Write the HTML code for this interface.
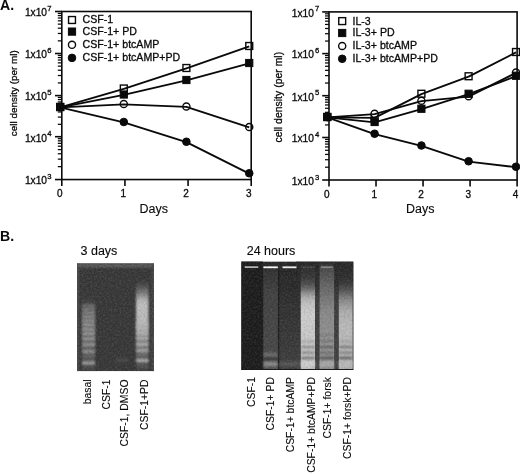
<!DOCTYPE html>
<html><head><meta charset="utf-8"><title>Figure</title>
<style>
html,body{margin:0;padding:0;background:#fff;}
body{width:520px;height:474px;overflow:hidden;}
svg{display:block;font-family:"Liberation Sans", Arial, Helvetica, sans-serif;fill:#0a0a0a;filter:grayscale(1);}
text{stroke:#0a0a0a;stroke-width:0.3px;}
.big,.rl{stroke-width:0.12px;}
.hd{stroke-width:0px;}
.ax{stroke:#0a0a0a;stroke-width:1.6;fill:none;}
.tk{stroke:#0a0a0a;stroke-width:1.25;fill:none;}
.ln{stroke:#0a0a0a;stroke-width:1.9;fill:none;stroke-linejoin:round;}
.om{stroke:#0a0a0a;stroke-width:1.4;fill:#fff;}
.fm{stroke:#0a0a0a;stroke-width:1;fill:#0a0a0a;}
.t{font-size:10.4px;}
.sup{font-size:7.7px;}
.big{font-size:12.5px;}
.hd{font-size:14.1px;font-weight:bold;}
</style></head><body>
<svg width="520" height="474" viewBox="0 0 520 474">
<defs>
<filter id="b1" x="-20%" y="-20%" width="140%" height="140%"><feGaussianBlur stdDeviation="0.9"/></filter>
<filter id="b2" x="-20%" y="-20%" width="140%" height="140%"><feGaussianBlur stdDeviation="1.6 2.2"/></filter>
<filter id="b3" x="-20%" y="-20%" width="140%" height="140%"><feGaussianBlur stdDeviation="0.6"/></filter>
</defs>
<rect width="520" height="474" fill="#fff"/>

<line class="ax" x1="55.00000000000001" y1="179.55" x2="61.800000000000004" y2="179.55"/>
<text class="t" style="font-size:10.2px" x="51.5" y="184.35" text-anchor="end">1x10<tspan class="sup" dx="0.2" dy="-5.3">3</tspan></text>
<line class="tk" x1="57.800000000000004" y1="166.65" x2="61.800000000000004" y2="166.65"/>
<line class="tk" x1="57.800000000000004" y1="159.11" x2="61.800000000000004" y2="159.11"/>
<line class="tk" x1="57.800000000000004" y1="153.75" x2="61.800000000000004" y2="153.75"/>
<line class="tk" x1="57.800000000000004" y1="149.60" x2="61.800000000000004" y2="149.60"/>
<line class="tk" x1="57.800000000000004" y1="146.21" x2="61.800000000000004" y2="146.21"/>
<line class="tk" x1="57.800000000000004" y1="143.34" x2="61.800000000000004" y2="143.34"/>
<line class="tk" x1="57.800000000000004" y1="140.85" x2="61.800000000000004" y2="140.85"/>
<line class="tk" x1="57.800000000000004" y1="138.66" x2="61.800000000000004" y2="138.66"/>
<line class="ax" x1="55.00000000000001" y1="136.70" x2="61.800000000000004" y2="136.70"/>
<text class="t" style="font-size:10.2px" x="51.5" y="141.50" text-anchor="end">1x10<tspan class="sup" dx="0.2" dy="-5.3">4</tspan></text>
<line class="tk" x1="57.800000000000004" y1="124.33" x2="61.800000000000004" y2="124.33"/>
<line class="tk" x1="57.800000000000004" y1="117.09" x2="61.800000000000004" y2="117.09"/>
<line class="tk" x1="57.800000000000004" y1="111.96" x2="61.800000000000004" y2="111.96"/>
<line class="tk" x1="57.800000000000004" y1="107.97" x2="61.800000000000004" y2="107.97"/>
<line class="tk" x1="57.800000000000004" y1="104.72" x2="61.800000000000004" y2="104.72"/>
<line class="tk" x1="57.800000000000004" y1="101.97" x2="61.800000000000004" y2="101.97"/>
<line class="tk" x1="57.800000000000004" y1="99.58" x2="61.800000000000004" y2="99.58"/>
<line class="tk" x1="57.800000000000004" y1="97.48" x2="61.800000000000004" y2="97.48"/>
<line class="ax" x1="55.00000000000001" y1="95.60" x2="61.800000000000004" y2="95.60"/>
<text class="t" style="font-size:10.2px" x="51.5" y="100.40" text-anchor="end">1x10<tspan class="sup" dx="0.2" dy="-5.3">5</tspan></text>
<line class="tk" x1="57.800000000000004" y1="82.93" x2="61.800000000000004" y2="82.93"/>
<line class="tk" x1="57.800000000000004" y1="75.51" x2="61.800000000000004" y2="75.51"/>
<line class="tk" x1="57.800000000000004" y1="70.25" x2="61.800000000000004" y2="70.25"/>
<line class="tk" x1="57.800000000000004" y1="66.17" x2="61.800000000000004" y2="66.17"/>
<line class="tk" x1="57.800000000000004" y1="62.84" x2="61.800000000000004" y2="62.84"/>
<line class="tk" x1="57.800000000000004" y1="60.02" x2="61.800000000000004" y2="60.02"/>
<line class="tk" x1="57.800000000000004" y1="57.58" x2="61.800000000000004" y2="57.58"/>
<line class="tk" x1="57.800000000000004" y1="55.43" x2="61.800000000000004" y2="55.43"/>
<line class="ax" x1="55.00000000000001" y1="53.50" x2="61.800000000000004" y2="53.50"/>
<text class="t" style="font-size:10.2px" x="51.5" y="58.30" text-anchor="end">1x10<tspan class="sup" dx="0.2" dy="-5.3">6</tspan></text>
<line class="tk" x1="57.800000000000004" y1="40.86" x2="61.800000000000004" y2="40.86"/>
<line class="tk" x1="57.800000000000004" y1="33.46" x2="61.800000000000004" y2="33.46"/>
<line class="tk" x1="57.800000000000004" y1="28.21" x2="61.800000000000004" y2="28.21"/>
<line class="tk" x1="57.800000000000004" y1="24.14" x2="61.800000000000004" y2="24.14"/>
<line class="tk" x1="57.800000000000004" y1="20.82" x2="61.800000000000004" y2="20.82"/>
<line class="tk" x1="57.800000000000004" y1="18.01" x2="61.800000000000004" y2="18.01"/>
<line class="tk" x1="57.800000000000004" y1="15.57" x2="61.800000000000004" y2="15.57"/>
<line class="tk" x1="57.800000000000004" y1="13.42" x2="61.800000000000004" y2="13.42"/>
<line class="ax" x1="55.00000000000001" y1="11.50" x2="61.800000000000004" y2="11.50"/>
<text class="t" style="font-size:10.2px" x="51.5" y="16.30" text-anchor="end">1x10<tspan class="sup" dx="0.2" dy="-5.3">7</tspan></text>
<line class="ax" x1="61.80" y1="179.55" x2="61.80" y2="186.05"/>
<text class="t" style="font-size:10px" x="59.80" y="197.45" text-anchor="middle">0</text>
<line class="ax" x1="124.93" y1="179.55" x2="124.93" y2="186.05"/>
<text class="t" style="font-size:10px" x="123.40" y="197.45" text-anchor="middle">1</text>
<line class="ax" x1="188.07" y1="179.55" x2="188.07" y2="186.05"/>
<text class="t" style="font-size:10px" x="186.00" y="197.45" text-anchor="middle">2</text>
<line class="ax" x1="251.20" y1="179.55" x2="251.20" y2="186.05"/>
<text class="t" style="font-size:10px" x="248.85" y="197.45" text-anchor="middle">3</text>
<text class="big" x="153.75" y="212.55" text-anchor="middle">Days</text>
<text class="t" style="font-size:9.8px;letter-spacing:0.05px" transform="translate(16.5,93.2) rotate(-90)" text-anchor="middle">cell density (per ml)</text>
<rect class="om" x="56.75" y="103.55" width="6.9" height="6.9"/>
<rect class="om" x="120.35" y="85.05" width="6.9" height="6.9"/>
<rect class="om" x="182.95" y="64.55" width="6.9" height="6.9"/>
<rect class="om" x="245.80" y="42.55" width="6.9" height="6.9"/>
<rect class="fm" x="56.60" y="103.40" width="7.2" height="7.2"/>
<rect class="fm" x="120.20" y="90.90" width="7.2" height="7.2"/>
<rect class="fm" x="182.80" y="76.40" width="7.2" height="7.2"/>
<rect class="fm" x="245.65" y="59.40" width="7.2" height="7.2"/>
<circle class="om" cx="60.20" cy="107.00" r="3.5500000000000003"/>
<circle class="om" cx="123.80" cy="104.00" r="3.5500000000000003"/>
<circle class="om" cx="186.40" cy="106.50" r="3.5500000000000003"/>
<circle class="om" cx="249.25" cy="127.00" r="3.5500000000000003"/>
<circle class="fm" cx="60.20" cy="107.00" r="3.8000000000000003"/>
<circle class="fm" cx="123.80" cy="122.00" r="3.8000000000000003"/>
<circle class="fm" cx="186.40" cy="141.75" r="3.8000000000000003"/>
<circle class="fm" cx="249.25" cy="173.25" r="3.8000000000000003"/>
<polyline class="ln" points="60.20,107.40 123.80,88.90 186.40,68.40 249.25,46.40"/>
<polyline class="ln" points="60.20,107.40 123.80,94.90 186.40,80.40 249.25,63.40"/>
<polyline class="ln" points="60.20,107.40 123.80,104.40 186.40,106.90 249.25,127.40"/>
<polyline class="ln" points="60.20,107.40 123.80,122.40 186.40,142.15 249.25,173.65"/>
<rect class="ax" x="61.800000000000004" y="11.5" width="189.39999999999998" height="168.05"/>
<rect class="om" x="68.55" y="16.55" width="6.9" height="6.9"/>
<text class="t" style="font-size:10.6px" x="82.5" y="23.40">CSF-1</text>
<rect class="fm" x="68.40" y="28.00" width="7.2" height="7.2"/>
<text class="t" style="font-size:10.6px" x="82.5" y="35.00">CSF-1+ PD</text>
<circle class="om" cx="72.00" cy="44.80" r="3.5500000000000003"/>
<text class="t" style="font-size:10.6px" x="82.5" y="48.20">CSF-1+ btcAMP</text>
<circle class="fm" cx="72.00" cy="57.90" r="3.8000000000000003"/>
<text class="t" style="font-size:10.6px" x="82.5" y="61.30">CSF-1+ btcAMP+PD</text>
<line class="ax" x1="322.2" y1="180.00" x2="329.0" y2="180.00"/>
<text class="t" style="font-size:10.2px" x="319.4" y="184.80" text-anchor="end">1x10<tspan class="sup" dx="1.2" dy="-5.3">3</tspan></text>
<line class="tk" x1="325.0" y1="167.21" x2="329.0" y2="167.21"/>
<line class="tk" x1="325.0" y1="159.72" x2="329.0" y2="159.72"/>
<line class="tk" x1="325.0" y1="154.41" x2="329.0" y2="154.41"/>
<line class="tk" x1="325.0" y1="150.29" x2="329.0" y2="150.29"/>
<line class="tk" x1="325.0" y1="146.93" x2="329.0" y2="146.93"/>
<line class="tk" x1="325.0" y1="144.08" x2="329.0" y2="144.08"/>
<line class="tk" x1="325.0" y1="141.62" x2="329.0" y2="141.62"/>
<line class="tk" x1="325.0" y1="139.44" x2="329.0" y2="139.44"/>
<line class="ax" x1="322.2" y1="137.50" x2="329.0" y2="137.50"/>
<text class="t" style="font-size:10.2px" x="319.4" y="142.30" text-anchor="end">1x10<tspan class="sup" dx="1.2" dy="-5.3">4</tspan></text>
<line class="tk" x1="325.0" y1="124.92" x2="329.0" y2="124.92"/>
<line class="tk" x1="325.0" y1="117.56" x2="329.0" y2="117.56"/>
<line class="tk" x1="325.0" y1="112.33" x2="329.0" y2="112.33"/>
<line class="tk" x1="325.0" y1="108.28" x2="329.0" y2="108.28"/>
<line class="tk" x1="325.0" y1="104.97" x2="329.0" y2="104.97"/>
<line class="tk" x1="325.0" y1="102.17" x2="329.0" y2="102.17"/>
<line class="tk" x1="325.0" y1="99.75" x2="329.0" y2="99.75"/>
<line class="tk" x1="325.0" y1="97.61" x2="329.0" y2="97.61"/>
<line class="ax" x1="322.2" y1="95.70" x2="329.0" y2="95.70"/>
<text class="t" style="font-size:10.2px" x="319.4" y="100.50" text-anchor="end">1x10<tspan class="sup" dx="1.2" dy="-5.3">5</tspan></text>
<line class="tk" x1="325.0" y1="83.03" x2="329.0" y2="83.03"/>
<line class="tk" x1="325.0" y1="75.61" x2="329.0" y2="75.61"/>
<line class="tk" x1="325.0" y1="70.35" x2="329.0" y2="70.35"/>
<line class="tk" x1="325.0" y1="66.27" x2="329.0" y2="66.27"/>
<line class="tk" x1="325.0" y1="62.94" x2="329.0" y2="62.94"/>
<line class="tk" x1="325.0" y1="60.12" x2="329.0" y2="60.12"/>
<line class="tk" x1="325.0" y1="57.68" x2="329.0" y2="57.68"/>
<line class="tk" x1="325.0" y1="55.53" x2="329.0" y2="55.53"/>
<line class="ax" x1="322.2" y1="53.60" x2="329.0" y2="53.60"/>
<text class="t" style="font-size:10.2px" x="319.4" y="58.40" text-anchor="end">1x10<tspan class="sup" dx="1.2" dy="-5.3">6</tspan></text>
<line class="tk" x1="325.0" y1="41.05" x2="329.0" y2="41.05"/>
<line class="tk" x1="325.0" y1="33.70" x2="329.0" y2="33.70"/>
<line class="tk" x1="325.0" y1="28.49" x2="329.0" y2="28.49"/>
<line class="tk" x1="325.0" y1="24.45" x2="329.0" y2="24.45"/>
<line class="tk" x1="325.0" y1="21.15" x2="329.0" y2="21.15"/>
<line class="tk" x1="325.0" y1="18.36" x2="329.0" y2="18.36"/>
<line class="tk" x1="325.0" y1="15.94" x2="329.0" y2="15.94"/>
<line class="tk" x1="325.0" y1="13.81" x2="329.0" y2="13.81"/>
<line class="ax" x1="322.2" y1="11.90" x2="329.0" y2="11.90"/>
<text class="t" style="font-size:10.2px" x="319.4" y="16.70" text-anchor="end">1x10<tspan class="sup" dx="1.2" dy="-5.3">7</tspan></text>
<line class="ax" x1="329.00" y1="180.0" x2="329.00" y2="186.5"/>
<text class="t" style="font-size:10px" x="326.90" y="197.90" text-anchor="middle">0</text>
<line class="ax" x1="376.02" y1="180.0" x2="376.02" y2="186.5"/>
<text class="t" style="font-size:10px" x="374.20" y="197.90" text-anchor="middle">1</text>
<line class="ax" x1="423.05" y1="180.0" x2="423.05" y2="186.5"/>
<text class="t" style="font-size:10px" x="421.00" y="197.90" text-anchor="middle">2</text>
<line class="ax" x1="470.08" y1="180.0" x2="470.08" y2="186.5"/>
<text class="t" style="font-size:10px" x="468.20" y="197.90" text-anchor="middle">3</text>
<line class="ax" x1="517.10" y1="180.0" x2="517.10" y2="186.5"/>
<text class="t" style="font-size:10px" x="515.60" y="197.90" text-anchor="middle">4</text>
<text class="big" x="420.30" y="213.00" text-anchor="middle">Days</text>
<text class="t" style="font-size:10.35px;letter-spacing:0.05px" transform="translate(281.6,97.2) rotate(-90)" text-anchor="middle">cell density (per ml)</text>
<rect class="om" x="323.85" y="113.55" width="6.9" height="6.9"/>
<rect class="om" x="371.15" y="114.05" width="6.9" height="6.9"/>
<rect class="om" x="417.95" y="90.30" width="6.9" height="6.9"/>
<rect class="om" x="465.15" y="72.80" width="6.9" height="6.9"/>
<rect class="om" x="512.55" y="48.55" width="6.9" height="6.9"/>
<circle class="om" cx="327.30" cy="117.00" r="3.5500000000000003"/>
<circle class="om" cx="374.60" cy="113.75" r="3.5500000000000003"/>
<circle class="om" cx="421.40" cy="100.75" r="3.5500000000000003"/>
<circle class="om" cx="468.60" cy="96.25" r="3.5500000000000003"/>
<circle class="om" cx="516.00" cy="72.50" r="3.5500000000000003"/>
<rect class="fm" x="323.70" y="113.40" width="7.2" height="7.2"/>
<rect class="fm" x="371.00" y="118.40" width="7.2" height="7.2"/>
<rect class="fm" x="417.80" y="105.15" width="7.2" height="7.2"/>
<rect class="fm" x="465.00" y="90.15" width="7.2" height="7.2"/>
<rect class="fm" x="512.40" y="72.15" width="7.2" height="7.2"/>
<circle class="fm" cx="327.30" cy="117.00" r="3.8000000000000003"/>
<circle class="fm" cx="374.60" cy="133.75" r="3.8000000000000003"/>
<circle class="fm" cx="421.40" cy="145.50" r="3.8000000000000003"/>
<circle class="fm" cx="468.60" cy="161.25" r="3.8000000000000003"/>
<circle class="fm" cx="516.00" cy="166.75" r="3.8000000000000003"/>
<polyline class="ln" points="327.30,117.40 374.60,117.90 421.40,94.15 468.60,76.65 516.00,52.40"/>
<polyline class="ln" points="327.30,117.40 374.60,114.15 421.40,101.15 468.60,96.65 516.00,72.90"/>
<polyline class="ln" points="327.30,117.40 374.60,122.40 421.40,109.15 468.60,94.15 516.00,76.15"/>
<polyline class="ln" points="327.30,117.40 374.60,134.15 421.40,145.90 468.60,161.65 516.00,167.15"/>
<rect class="ax" x="329.0" y="11.9" width="188.10000000000002" height="168.1"/>
<rect class="om" x="338.75" y="17.65" width="6.9" height="6.9"/>
<text class="t" style="font-size:10.6px" x="352.5" y="24.50">IL-3</text>
<rect class="fm" x="338.60" y="29.40" width="7.2" height="7.2"/>
<text class="t" style="font-size:10.6px" x="352.5" y="36.40">IL-3+ PD</text>
<circle class="om" cx="342.20" cy="46.00" r="3.5500000000000003"/>
<text class="t" style="font-size:10.6px" x="352.5" y="49.40">IL-3+ btcAMP</text>
<circle class="fm" cx="342.20" cy="58.80" r="3.8000000000000003"/>
<text class="t" style="font-size:10.6px" x="352.5" y="62.20">IL-3+ btcAMP+PD</text>
<text class="hd" x="0" y="10.2">A.</text>
<text class="hd" x="0" y="240.6">B.</text>
<text class="big" x="80.5" y="255.3">3 days</text>
<text class="big" x="246.7" y="255.2">24 hours</text>
<filter id="grain" x="0" y="0" width="100%" height="100%"><feTurbulence type="fractalNoise" baseFrequency="0.55" numOctaves="2" seed="7" result="n"/><feColorMatrix in="n" type="matrix" values="0 0 0 0 1  0 0 0 0 1  0 0 0 0 1  0.9 0 0 0 -0.33"/></filter>
<filter id="grainD" x="0" y="0" width="100%" height="100%"><feTurbulence type="fractalNoise" baseFrequency="0.5" numOctaves="2" seed="11" result="n"/><feColorMatrix in="n" type="matrix" values="0 0 0 0 0  0 0 0 0 0  0 0 0 0 0  0 0.9 0 0 -0.33"/></filter>
<filter id="bl" x="-30%" y="-10%" width="160%" height="120%"><feGaussianBlur stdDeviation="0.65 2.4"/></filter>
<filter id="bl1" x="-30%" y="-10%" width="160%" height="120%"><feGaussianBlur stdDeviation="1.0 3.2"/></filter>
<filter id="bb" x="-30%" y="-60%" width="160%" height="220%"><feGaussianBlur stdDeviation="1.0 0.9"/></filter>
<filter id="bw" x="-30%" y="-60%" width="160%" height="220%"><feGaussianBlur stdDeviation="0.7 0.5"/></filter>
<clipPath id="c1"><rect x="77.0" y="263.2" width="77.0" height="108.0"/></clipPath>
<g clip-path="url(#c1)">
<rect x="77.0" y="263.2" width="77.0" height="108.0" fill="#373737"/>
<rect x="77.0" y="263.2" width="77.0" height="4.5" fill="#585858" filter="url(#bb)"/>
<rect x="76.0" y="263.2" width="3" height="108.0" fill="#4c4c4c" filter="url(#bb)"/>
<rect x="152.0" y="263.2" width="3" height="108.0" fill="#4a4a4a" filter="url(#bb)"/>
<linearGradient id="lg1" x1="0" y1="0" x2="0" y2="1"><stop offset="0" stop-color="#646464" stop-opacity="0"/><stop offset="0.1" stop-color="#646464" stop-opacity="0.3"/><stop offset="0.25" stop-color="#686868" stop-opacity="0.8"/><stop offset="0.5" stop-color="#727272" stop-opacity="1"/><stop offset="1" stop-color="#585858" stop-opacity="0.8"/></linearGradient>
<rect x="82.10" y="297" width="13" height="72" fill="url(#lg1)" filter="url(#bl1)"/>
<rect x="82.40" y="361.70" width="12.4" height="2.6" fill="#a8a8a8" filter="url(#bb)"/>
<rect x="82.40" y="350.20" width="12.4" height="2.6" fill="#929292" filter="url(#bb)"/>
<rect x="82.40" y="343.30" width="12.4" height="2.6" fill="#969696" filter="url(#bb)"/>
<rect x="82.40" y="337.40" width="12.4" height="2.6" fill="#969696" filter="url(#bb)"/>
<rect x="82.40" y="332.30" width="12.4" height="2.6" fill="#969696" filter="url(#bb)"/>
<rect x="82.40" y="327.90" width="12.4" height="2.6" fill="#969696" filter="url(#bb)"/>
<rect x="82.40" y="323.50" width="12.4" height="2.6" fill="#969696" filter="url(#bb)"/>
<rect x="82.40" y="319.30" width="12.4" height="2.6" fill="#929292" filter="url(#bb)"/>
<rect x="82.40" y="315.30" width="12.4" height="2.6" fill="#8e8e8e" filter="url(#bb)"/>
<rect x="82.40" y="311.50" width="12.4" height="2.6" fill="#868686" filter="url(#bb)"/>
<rect x="82.40" y="307.90" width="12.4" height="2.6" fill="#7e7e7e" filter="url(#bb)"/>
<rect x="82.40" y="304.50" width="12.4" height="2.6" fill="#727272" filter="url(#bb)"/>
<linearGradient id="lg2" x1="0" y1="0" x2="0" y2="1"><stop offset="0" stop-color="#808080" stop-opacity="0"/><stop offset="0.1" stop-color="#808080" stop-opacity="0.7"/><stop offset="0.22" stop-color="#c2c2c2" stop-opacity="1"/><stop offset="0.48" stop-color="#bcbcbc" stop-opacity="1"/><stop offset="0.68" stop-color="#868686" stop-opacity="1"/><stop offset="1" stop-color="#585858" stop-opacity="0.7"/></linearGradient>
<rect x="136.05" y="282" width="12.5" height="87" fill="url(#lg2)" filter="url(#bl1)"/>
<rect x="136.35" y="359.30" width="11.9" height="2.6" fill="#bababa" filter="url(#bb)"/>
<rect x="136.35" y="349.20" width="11.9" height="2.6" fill="#aaaaaa" filter="url(#bb)"/>
<rect x="136.35" y="343.10" width="11.9" height="2.6" fill="#b0b0b0" filter="url(#bb)"/>
<rect x="136.35" y="336.90" width="11.9" height="2.6" fill="#acacac" filter="url(#bb)"/>
<rect x="136.35" y="331.70" width="11.9" height="2.6" fill="#b2b2b2" filter="url(#bb)"/>
<rect x="136.35" y="327.20" width="11.9" height="2.6" fill="#b6b6b6" filter="url(#bb)"/>
<rect x="136.35" y="323.10" width="11.9" height="2.6" fill="#b8b8b8" filter="url(#bb)"/>
<rect x="116" y="358.5" width="12" height="3" fill="#4a4a4a" filter="url(#bb)"/>
<rect x="77.0" y="263.2" width="77.0" height="108.0" fill="#fff" filter="url(#grain)" opacity="0.28"/>
<rect x="77.0" y="263.2" width="77.0" height="108.0" fill="#000" filter="url(#grainD)" opacity="0.28"/>
</g>
<clipPath id="c2"><rect x="241.3" y="261.4" width="112.09999999999997" height="108.60000000000002"/></clipPath>
<g clip-path="url(#c2)">
<rect x="241.3" y="261.4" width="112.09999999999997" height="108.60000000000002" fill="#272727"/>
<linearGradient id="gapg" x1="0" y1="0" x2="0" y2="1"><stop offset="0" stop-color="#272727"/><stop offset="0.2" stop-color="#2c2c2c"/><stop offset="0.35" stop-color="#3c3c3c"/><stop offset="1" stop-color="#424242"/></linearGradient>
<rect x="296" y="261.4" width="58" height="108.60000000000002" fill="url(#gapg)"/>
<linearGradient id="lg3" x1="0" y1="0" x2="0" y2="1"><stop offset="0" stop-color="#1c1c1c" stop-opacity="1"/><stop offset="1" stop-color="#1e1e1e" stop-opacity="1"/></linearGradient>
<rect x="240.00" y="258" width="23" height="118" fill="url(#lg3)" filter="url(#bl)"/>
<rect x="244.75" y="266.20" width="13.5" height="1.8" fill="#b8b8b8" filter="url(#bw)"/>
<linearGradient id="lg4" x1="0" y1="0" x2="0" y2="1"><stop offset="0" stop-color="#262626" stop-opacity="1"/><stop offset="0.5" stop-color="#343434" stop-opacity="1"/><stop offset="1" stop-color="#404040" stop-opacity="1"/></linearGradient>
<rect x="279.00" y="266" width="21" height="110" fill="url(#lg4)" filter="url(#bl)"/>
<rect x="279.30" y="361.50" width="20.4" height="5" fill="#545454" filter="url(#bb)"/>
<rect x="282.50" y="266.40" width="14" height="1.8" fill="#f2f2f2" filter="url(#bw)"/>
<linearGradient id="lg5" x1="0" y1="0" x2="0" y2="1"><stop offset="0" stop-color="#333" stop-opacity="0.8"/><stop offset="0.25" stop-color="#424242" stop-opacity="1"/><stop offset="0.8" stop-color="#484848" stop-opacity="1"/><stop offset="1" stop-color="#565656" stop-opacity="1"/></linearGradient>
<rect x="263.40" y="268" width="14.4" height="108" fill="url(#lg5)" filter="url(#bl)"/>
<rect x="263.70" y="361.50" width="13.8" height="5" fill="#868686" filter="url(#bb)"/>
<rect x="263.70" y="352.50" width="13.8" height="5" fill="#686868" filter="url(#bb)"/>
<rect x="263.70" y="357.40" width="13.8" height="2.2" fill="#000" opacity="0.35" filter="url(#bb)"/>
<rect x="263.35" y="266.40" width="14.5" height="1.8" fill="#ffffff" filter="url(#bw)"/>
<rect x="278" y="270" width="1.2" height="100" fill="#1c1c1c" opacity="0.7" filter="url(#bw)"/>
<linearGradient id="lg6" x1="0" y1="0" x2="0" y2="1"><stop offset="0" stop-color="#303030" stop-opacity="0.7"/><stop offset="0.11" stop-color="#3c3c3c" stop-opacity="1"/><stop offset="0.18" stop-color="#5c5c5c" stop-opacity="1"/><stop offset="0.25" stop-color="#a0a0a0" stop-opacity="1"/><stop offset="0.32" stop-color="#c4c4c4" stop-opacity="1"/><stop offset="0.45" stop-color="#d0d0d0" stop-opacity="1"/><stop offset="0.7" stop-color="#c8c8c8" stop-opacity="1"/><stop offset="1" stop-color="#bcbcbc" stop-opacity="1"/></linearGradient>
<rect x="300.80" y="268" width="14.2" height="108" fill="url(#lg6)" filter="url(#bl)"/>
<rect x="301.10" y="361.00" width="13.6" height="6" fill="#d0d0d0" filter="url(#bb)"/>
<rect x="301.10" y="356.90" width="13.6" height="2.2" fill="#000" opacity="0.42" filter="url(#bb)"/>
<rect x="301.10" y="351.60" width="13.6" height="2.2" fill="#000" opacity="0.3" filter="url(#bb)"/>
<rect x="301.10" y="345.90" width="13.6" height="2.2" fill="#000" opacity="0.3" filter="url(#bb)"/>
<rect x="301.10" y="340.40" width="13.6" height="2.2" fill="#000" opacity="0.15" filter="url(#bb)"/>
<rect x="301.40" y="266.30" width="13" height="1.8" fill="#444444" filter="url(#bw)"/>
<linearGradient id="lg7" x1="0" y1="0" x2="0" y2="1"><stop offset="0" stop-color="#4c4c4c" stop-opacity="0.9"/><stop offset="0.2" stop-color="#686868" stop-opacity="1"/><stop offset="0.42" stop-color="#8a8a8a" stop-opacity="1"/><stop offset="0.7" stop-color="#929292" stop-opacity="1"/><stop offset="1" stop-color="#8c8c8c" stop-opacity="1"/></linearGradient>
<rect x="319.60" y="266" width="14.5" height="110" fill="url(#lg7)" filter="url(#bl)"/>
<rect x="319.90" y="361.00" width="13.9" height="6" fill="#a8a8a8" filter="url(#bb)"/>
<rect x="319.90" y="356.90" width="13.9" height="2.2" fill="#000" opacity="0.45" filter="url(#bb)"/>
<rect x="319.90" y="351.60" width="13.9" height="2.2" fill="#000" opacity="0.25" filter="url(#bb)"/>
<rect x="319.90" y="345.90" width="13.9" height="2.2" fill="#000" opacity="0.35" filter="url(#bb)"/>
<rect x="319.90" y="339.90" width="13.9" height="2.2" fill="#000" opacity="0.2" filter="url(#bb)"/>
<rect x="319.90" y="333.90" width="13.9" height="2.2" fill="#000" opacity="0.12" filter="url(#bb)"/>
<rect x="320.85" y="266.30" width="12" height="1.8" fill="#848484" filter="url(#bw)"/>
<linearGradient id="lg8" x1="0" y1="0" x2="0" y2="1"><stop offset="0" stop-color="#2c2c2c" stop-opacity="0.5"/><stop offset="0.11" stop-color="#333" stop-opacity="1"/><stop offset="0.19" stop-color="#505050" stop-opacity="1"/><stop offset="0.27" stop-color="#848484" stop-opacity="1"/><stop offset="0.38" stop-color="#acacac" stop-opacity="1"/><stop offset="0.52" stop-color="#bcbcbc" stop-opacity="1"/><stop offset="0.8" stop-color="#b6b6b6" stop-opacity="1"/><stop offset="1" stop-color="#acacac" stop-opacity="1"/></linearGradient>
<rect x="338.80" y="270" width="13.8" height="106" fill="url(#lg8)" filter="url(#bl)"/>
<rect x="339.10" y="361.00" width="13.200000000000001" height="6" fill="#bcbcbc" filter="url(#bb)"/>
<rect x="339.10" y="356.90" width="13.200000000000001" height="2.2" fill="#000" opacity="0.5" filter="url(#bb)"/>
<rect x="339.10" y="351.60" width="13.200000000000001" height="2.2" fill="#000" opacity="0.3" filter="url(#bb)"/>
<rect x="339.10" y="345.90" width="13.200000000000001" height="2.2" fill="#000" opacity="0.35" filter="url(#bb)"/>
<rect x="339.10" y="340.40" width="13.200000000000001" height="2.2" fill="#000" opacity="0.12" filter="url(#bb)"/>
<rect x="241.3" y="261.4" width="112.09999999999997" height="108.60000000000002" fill="#fff" filter="url(#grain)" opacity="0.25"/>
<rect x="241.3" y="261.4" width="112.09999999999997" height="108.60000000000002" fill="#000" filter="url(#grainD)" opacity="0.25"/>
<rect x="241.3" y="369.0" width="112.09999999999997" height="1" fill="#1a1a1a"/>
</g>
<text class="t rl" transform="translate(91.0,379.5) rotate(-90)" text-anchor="end">basal</text>
<text class="t rl" transform="translate(110.2,379.5) rotate(-90)" text-anchor="end">CSF-1</text>
<text class="t rl" transform="translate(128.2,379.5) rotate(-90)" text-anchor="end">CSF-1, DMSO</text>
<text class="t rl" transform="translate(147.5,379.5) rotate(-90)" text-anchor="end">CSF-1+PD</text>
<text class="t rl" transform="translate(255,377) rotate(-90)" text-anchor="end">CSF-1</text>
<text class="t rl" transform="translate(274.2,377) rotate(-90)" text-anchor="end">CSF-1+ PD</text>
<text class="t rl" transform="translate(294.2,377) rotate(-90)" text-anchor="end">CSF-1+ btcAMP</text>
<text class="t rl" transform="translate(314.5,377) rotate(-90)" text-anchor="end">CSF-1+ btcAMP+PD</text>
<text class="t rl" transform="translate(330.5,377) rotate(-90)" text-anchor="end">CSF-1+ forsk</text>
<text class="t rl" transform="translate(350.5,377) rotate(-90)" text-anchor="end">CSF-1+ forsk+PD</text>
</svg></body></html>
